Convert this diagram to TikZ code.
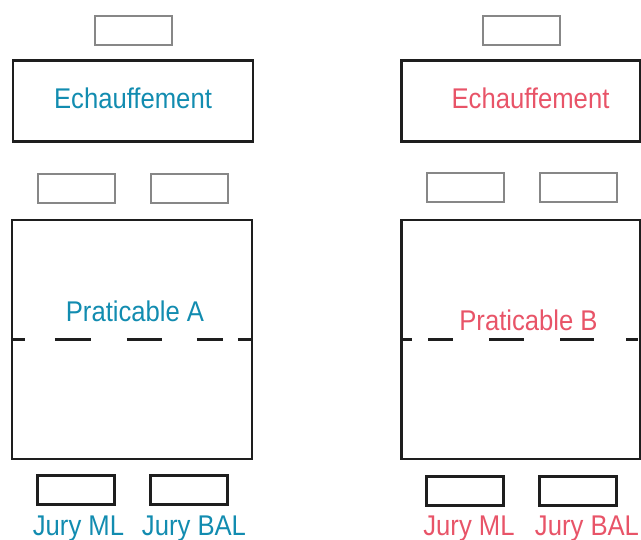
\documentclass[tikz,border=0pt]{standalone}
\usepackage{fontspec}
\setmainfont{Liberation Sans}[FakeStretch=0.9]
\definecolor{cblue}{RGB}{18,140,176}
\definecolor{cred}{RGB}{232,84,104}
\definecolor{cgray}{RGB}{135,135,135}
\definecolor{cblack}{RGB}{30,30,30}
\begin{document}
\begin{tikzpicture}[x=1pt,y=-1pt,
  bigbox/.style={draw=cblack,line width=2.3pt,rectangle,inner sep=0pt,minimum width=240pt},
  graybox/.style={draw=cgray,line width=2pt,rectangle,inner sep=0pt,minimum width=77pt,minimum height=29pt},
  jurybox/.style={draw=cblack,line width=2.3pt,rectangle,inner sep=0pt,minimum width=77pt,minimum height=29pt},
  lbl/.style={anchor=base,inner sep=0pt,font=\fontsize{28.5}{32}\selectfont},
  sep/.style={draw=cblack,line width=2.3pt}]
\useasboundingbox (0,0) rectangle (641,540);
% left column
\node[graybox] (tgA) at (133.5,31) {};
\node[bigbox,minimum height=81pt] (echA) at (133,101) {};
\node[lbl,text=cblue] (echAt) at (133,109) {Echauffement};
\node[graybox] (g1A) at (76,189) {};
\node[graybox] (g2A) at (189,189) {};
\node[bigbox,minimum height=239pt] (pA) at (132,339.5) {};
\node[lbl,text=cblue] (pAt) at (135,322) {Praticable A};
\draw[sep,dash pattern=on 14pt off 30pt on 36pt off 36pt on 35pt off 35pt on 26pt off 15pt on 13pt off 20pt] (pA.west) -- (pA.east);
\node[jurybox] (j1A) at (76,490) {};
\node[jurybox] (j2A) at (189,490) {};
\node[lbl,text=cblue] (j1At) at (78.5,536) {Jury ML};
\node[lbl,text=cblue] (j2At) at (194,536) {Jury BAL};
% right column
\node[graybox] (tgB) at (521.5,31) {};
\node[bigbox,minimum height=81pt,minimum width=239pt] (echB) at (521,101) {};
\node[lbl,text=cred] (echBt) at (530.5,109) {Echauffement};
\node[graybox] (g1B) at (465,188) {};
\node[graybox] (g2B) at (578,188) {};
\node[bigbox,minimum height=239pt,minimum width=239pt] (pB) at (521,339.5) {};
\node[lbl,text=cred] (pBt) at (528.5,331) {Praticable B};
\draw[sep,dash pattern=on 12pt off 16pt on 25pt off 36pt on 35pt off 36pt on 34pt off 32pt on 12pt off 20pt] (pB.west) -- (pB.east);
\node[jurybox] (j1B) at (465,491) {};
\node[jurybox] (j2B) at (578,491) {};
\node[lbl,text=cred] (j1Bt) at (469,536) {Jury ML};
\node[lbl,text=cred] (j2Bt) at (587,536) {Jury BAL};
\end{tikzpicture}
\end{document}
